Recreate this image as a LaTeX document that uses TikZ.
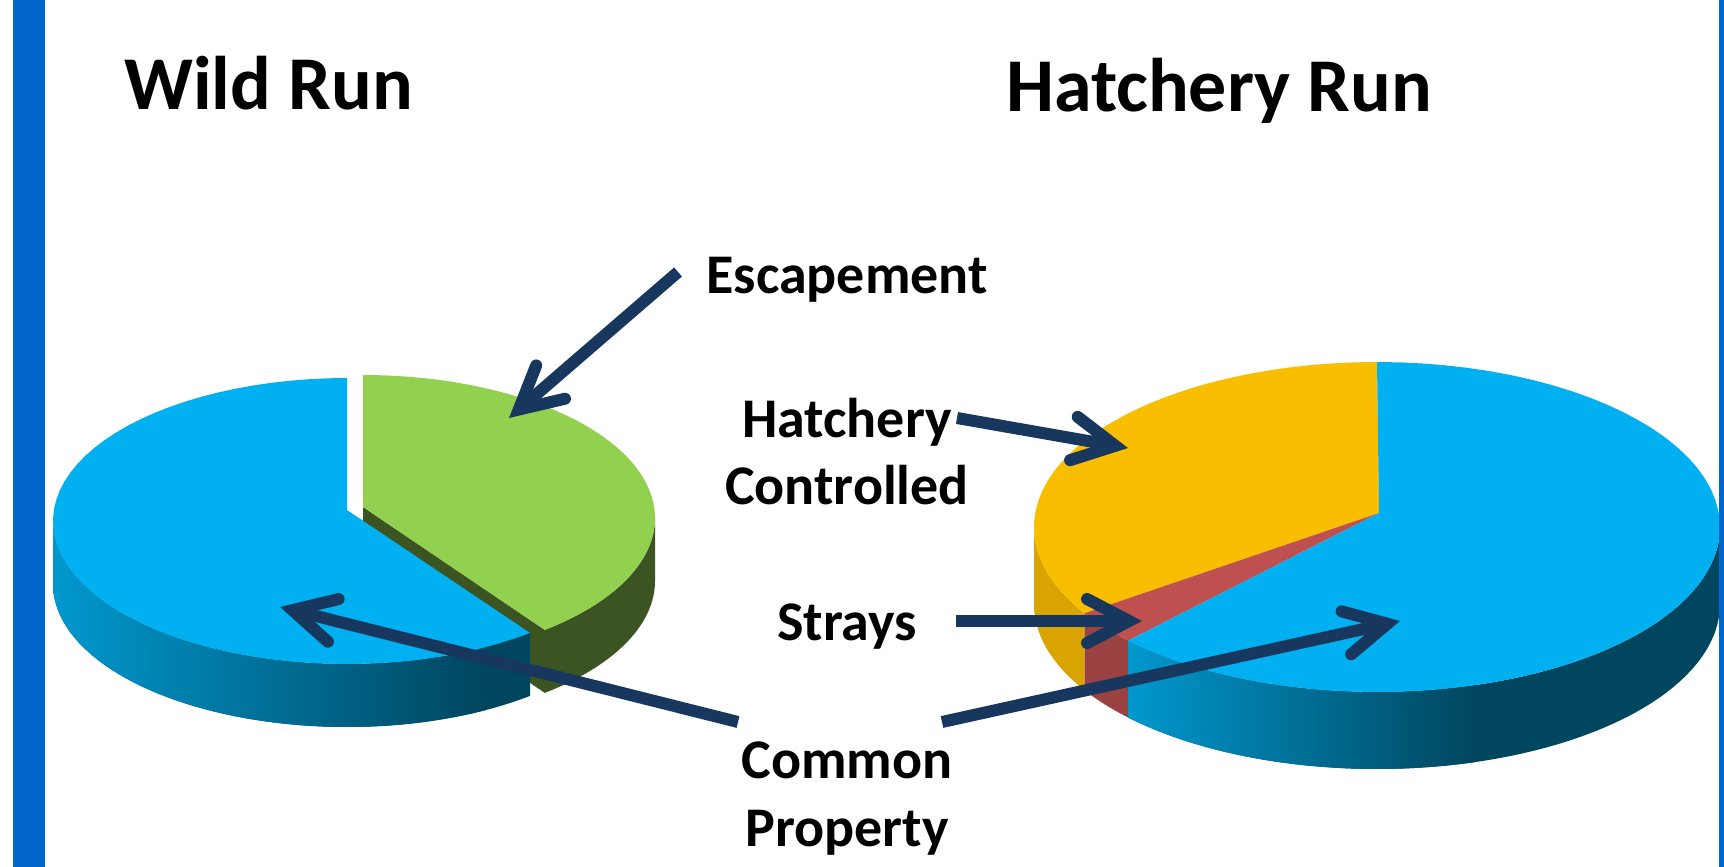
\documentclass[tikz,border=0pt]{standalone}
\usepackage{fontspec}
\setmainfont{Carlito}
\usetikzlibrary{arrows.meta}
\definecolor{frameblue}{HTML}{0066CC}
\definecolor{piecyan}{HTML}{00B0F0}
\definecolor{piegreen}{HTML}{92D050}
\definecolor{greenside}{HTML}{3C5322}
\definecolor{pieyellow}{HTML}{F9BE00}
\definecolor{yellowside}{HTML}{D9A300}
\definecolor{piered}{HTML}{BE5050}
\definecolor{redside}{HTML}{9A4141}
\definecolor{sidelight}{HTML}{0098CE}
\definecolor{sidedark}{HTML}{00465F}
\definecolor{arrowblue}{HTML}{17375E}
% t1 t2 cx cy rx ry dy
\newcommand\pieArc[7]{plot[domain=#1:#2, samples=60, variable=\t] ({#3+#5*cos(\t)},{#4+#7-#6*sin(\t)})}
\newcommand\pieArcTo[7]{-- plot[domain=#1:#2, samples=60, variable=\t] ({#3+#5*cos(\t)},{#4+#7-#6*sin(\t)})}
\begin{document}
\begin{tikzpicture}[x=1pt,y=-1pt,
  title/.style={font=\fontsize{76}{90}\selectfont\bfseries, inner sep=0pt, anchor=base west},
  lbl/.style={font=\fontsize{56}{62}\selectfont\bfseries, inner sep=0pt, anchor=base},
  pointer/.style={draw=arrowblue, line width=12pt,
    -{Straight Barb[length=42pt,width=44pt,line cap=round,line join=miter]}}
]
\useasboundingbox (0,0) rectangle (1724,867);
\fill[white] (0,0) rectangle (1724,867);

% ---------- Left pie (Wild Run) ----------
% green cut face
\fill[greenside] (363,507) -- (544.8,629.9) -- (544.8,692.9) -- (363,570) -- cycle;
% green side
\fill[greenside] \pieArc{-51.5}{0}{363}{518}{292}{143}{0} \pieArcTo{0}{-51.5}{363}{518}{292}{143}{63} -- cycle;
% green top
\fill[piegreen] (363,507) \pieArcTo{-51.5}{90}{363}{518}{292}{143}{0} -- cycle;
% blue side
\begin{scope}
  \clip \pieArc{180}{308.5}{347}{521}{294}{143}{0} \pieArcTo{308.5}{180}{347}{521}{294}{143}{63} -- cycle;
  \fill[sidedark] (40,300) rectangle (560,800);
  \shade[left color=sidelight, right color=sidedark] (53,300) rectangle (485,800);
\end{scope}
% blue top
\fill[piecyan] (347,510) \pieArcTo{90}{308.5}{347}{521}{294}{143}{0} -- cycle;

% ---------- Right pie (Hatchery Run) ----------
% yellow side
\fill[yellowside] \pieArc{180}{211.5}{1377}{527}{343}{165}{0} \pieArcTo{211.5}{180}{1377}{527}{343}{165}{77} -- cycle;
% red side
\fill[redside] \pieArc{211.5}{223.5}{1377}{527}{343}{165}{0} \pieArcTo{223.5}{211.5}{1377}{527}{343}{165}{77} -- cycle;
% blue side
\begin{scope}
  \clip \pieArc{223.5}{360}{1377}{527}{343}{165}{0} \pieArcTo{360}{223.5}{1377}{527}{343}{165}{77} -- cycle;
  \fill[sidedark] (1100,500) rectangle (1724,800);
  \shade[left color=sidelight, right color=sidedark] (1127,500) rectangle (1475,800);
\end{scope}
% tops
\fill[pieyellow] (1379,513) \pieArcTo{90}{211.5}{1377}{527}{343}{165}{0} -- cycle;
\fill[piered] (1379,513) \pieArcTo{211.5}{223.5}{1377}{527}{343}{165}{0} -- cycle;
\fill[piecyan] (1379,513) \pieArcTo{223.5}{450}{1377}{527}{343}{165}{0} -- cycle;

% ---------- frame bars ----------
\fill[frameblue] (13,0) rectangle (45,867);
\fill[frameblue] (1719,0) rectangle (1724,867);

% ---------- titles and labels ----------
\node[title] (wild) at (124,110) {Wild Run};
\node[title] (hatch) at (1006,111) {Hatchery Run};
\node[lbl] (esc) at (847,293) {Escapement};
\node[lbl] (hc1) at (847,437) {Hatchery};
\node[lbl] (hc2) at (847,504) {Controlled};
\node[lbl] (str) at (847,640) {Strays};
\node[lbl] (cp1) at (847,778) {Common};
\node[lbl] (cp2) at (847,846) {Property};

% ---------- arrows ----------
\coordinate (escS) at (678,272);  \coordinate (escT) at (509,418);
\coordinate (hcS) at (957,418);   \coordinate (hcT) at (1128,448);
\coordinate (stS) at (956,621);   \coordinate (stT) at (1142,621);
\coordinate (cpLS) at (738,722);  \coordinate (cpLT) at (280,607);
\coordinate (cpRS) at (942,722);  \coordinate (cpRT) at (1400,621);
\draw[pointer] (escS) -- (escT);
\draw[pointer] (hcS) -- (hcT);
\draw[pointer] (stS) -- (stT);
\draw[pointer] (cpLS) -- (cpLT);
\draw[pointer] (cpRS) -- (cpRT);
\end{tikzpicture}
\end{document}
